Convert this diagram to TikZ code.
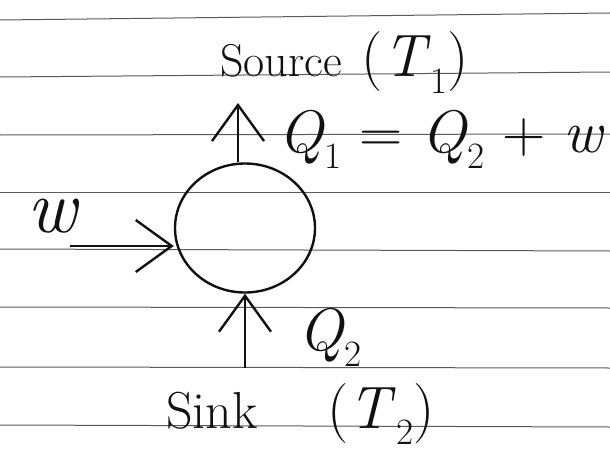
\documentclass[tikz,border=0pt]{standalone}
\usetikzlibrary{arrows.meta,shapes.geometric}
\definecolor{ink}{HTML}{111111}
\definecolor{paperline}{HTML}{5A5A5A}
\newcommand{\lowsub}[1]{\raisebox{-0.28em}{\fontsize{0.62\dimexpr\fontdimen6\font\relax}{1em}\selectfont #1}}
\newcommand{\tempr}[1]{{\fontsize{60}{64}\selectfont(\textit{T}\lowsub{#1})}}
\tikzset{
  ruled/.style={draw=paperline,line width=1pt},
  engine/.style={ellipse,draw=ink,line width=2.4pt,minimum width=140pt,minimum height=129pt,inner sep=0pt},
  ar/.style={-{Straight Barb[length=36pt,width=52pt]},draw=ink,line width=2.4pt},
  lbl/.style={inner sep=0pt,text=ink,font=\fontsize{46}{50}\selectfont},
  eq/.style={inner sep=0pt,text=ink,font=\fontsize{60}{64}\selectfont},
}
\begin{document}
\begin{tikzpicture}[x=1pt,y=-1pt]
  \useasboundingbox (0,0) rectangle (610,452);
  % ruled paper
  \foreach \ya/\yb in {20/13,77/72,135/134,192/192,249/251,307/308,367/368,425/427}
    \draw[ruled] (0,\ya) -- (610,\yb);
  % engine and heat flows
  \node[engine] (eng) at (245,228) {};
  \coordinate (top) at (238,103);
  \coordinate (win) at (70,246);
  \coordinate (bot) at (245,368);
  \draw[ar] (eng.north -| top) -- (top);
  \draw[ar] (win) -- (win -| eng.west);
  \draw[ar] (bot) -- (eng.south);
  % labels
  \node[lbl,anchor=base west] (src) at (220,77) {Source\hspace{20pt}\tempr{1}};
  \node[lbl,anchor=base west,font=\fontsize{52}{56}\selectfont] (snk) at (166,428) {Sink\hspace{70pt}\tempr{2}};
  \node[eq,anchor=base west] (q1) at (278,152) {\textit{Q}\lowsub{1} = \textit{Q}\lowsub{2} + \textit{w}};
  \node[eq,anchor=base west] (q2) at (298,350) {\textit{Q}\lowsub{2}};
  \node[eq,anchor=base,font=\fontsize{76}{80}\selectfont] (wl) at (53,232) {\textit{w}};
\end{tikzpicture}
\end{document}
